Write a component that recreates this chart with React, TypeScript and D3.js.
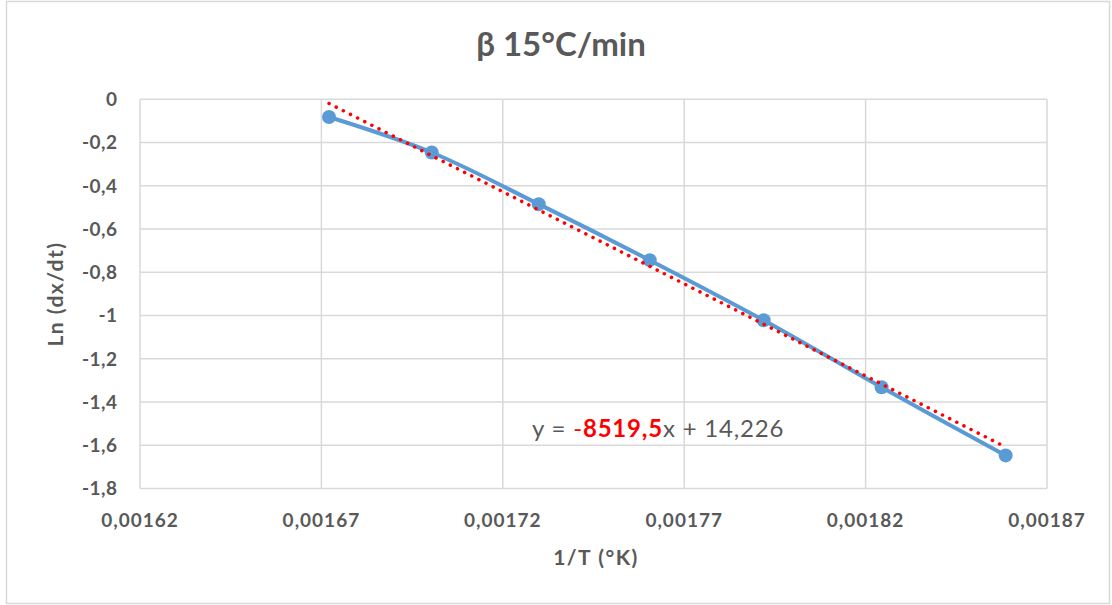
import React from "react";
import * as d3 from "d3";

const xValues = [0.0016721, 0.0017004, 0.0017299, 0.0017605, 0.0017919, 0.0018244, 0.0018586];
const yValues = [-0.082, -0.246, -0.485, -0.744, -1.022, -1.332, -1.647];
const xTicks = [0.00162, 0.00167, 0.00172, 0.00177, 0.00182, 0.00187];
const yTicks = [0, -0.2, -0.4, -0.6, -0.8, -1, -1.2, -1.4, -1.6, -1.8];
const slope = -8519.5;
const intercept = 14.226;

const W = 1112;
const H = 605;
const FONT = "Lato, 'Open Sans', sans-serif";
const GREY = "#595959";

const fmt = (v: number) => {
  if (v === 0) return "0";
  return String(v).replace(".", ",");
};

export default function App() {
  const x = d3.scaleLinear().domain([0.00162, 0.00187]).range([140, 1047]);
  const y = d3.scaleLinear().domain([0, -1.8]).range([99.3, 488.5]);
  const pts: [number, number][] = xValues.map((v, i) => [x(v), y(yValues[i])]);
  const line = d3.line().curve(d3.curveCatmullRom.alpha(0.5))(pts) || "";
  const x0 = xValues[0];
  const x1 = xValues[xValues.length - 1];
  const trend = d3.line()([
    [x(x0), y(slope * x0 + intercept)],
    [x(x1), y(slope * x1 + intercept)],
  ]) || "";

  return (
    <svg width={W} height={H} style={{ position: "absolute", left: 0, top: 0, background: "#fff" }} fontFamily={FONT}>
      <rect x={6.5} y={1.5} width={1103} height={602} fill="#fff" stroke="#d9d9d9" strokeWidth={1.5} />
      <text x={561} y={56} textAnchor="middle" fontSize={33} fontWeight="bold" fill={GREY}>β 15°C/min</text>
      {yTicks.map((t) => (
        <line key={"gy" + t} x1={140} x2={1047} y1={y(t)} y2={y(t)} stroke="#d9d9d9" strokeWidth={1.5} />
      ))}
      {xTicks.map((t) => (
        <line key={"gx" + t} x1={x(t)} x2={x(t)} y1={y(0)} y2={y(-1.8)} stroke="#d9d9d9" strokeWidth={1.5} />
      ))}
      {yTicks.map((t) => (
        <text key={"ty" + t} x={117.5} y={y(t)} dy="0.36em" textAnchor="end" fontSize={19} fontWeight="bold" letterSpacing={0.5} fill={GREY}>{fmt(t)}</text>
      ))}
      {xTicks.map((t) => (
        <text key={"tx" + t} x={x(t)} y={527} textAnchor="middle" fontSize={19} fontWeight="bold" letterSpacing={1} fill={GREY}>{fmt(t)}</text>
      ))}
      <text transform="translate(63,294) rotate(-90)" textAnchor="middle" fontSize={21} fontWeight="bold" letterSpacing={1.5} fill={GREY}>Ln (dx/dt)</text>
      <text x={596} y={565} textAnchor="middle" fontSize={21} fontWeight="bold" letterSpacing={1.5} fill={GREY}>1/T (°K)</text>
      <path d={line} fill="none" stroke="#5b9bd5" strokeWidth={4} strokeLinecap="round" />
      {pts.map((p, i) => (
        <circle key={"c" + i} cx={p[0]} cy={p[1]} r={7} fill="#5b9bd5" />
      ))}
      <path d={trend} fill="none" stroke="#ff0000" strokeWidth={3.5} strokeLinecap="round" strokeDasharray="0.1 7.9" />
      <text x={532} y={437} fontSize={24} letterSpacing={0.8} fill={GREY}>
        <tspan>y = </tspan>
        <tspan fill="#ff0000">-</tspan>
        <tspan fill="#ff0000" fontWeight="bold">8519,5</tspan>
        <tspan>x + 14,226</tspan>
      </text>
    </svg>
  );
}
